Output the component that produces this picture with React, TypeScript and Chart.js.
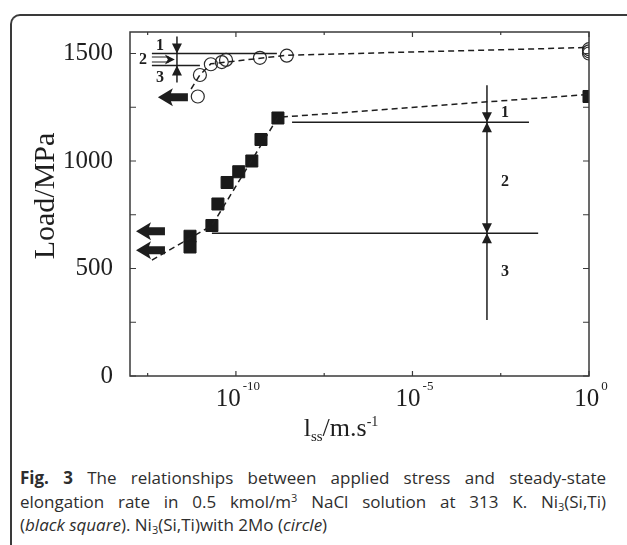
import React, { useEffect, useRef } from "react";
import { Chart, registerables } from "chart.js";

Chart.register(...registerables);

// x values are log10 of the steady-state elongation rate (m/s), y is load in MPa
// Ni3(Si,Ti) (black squares)
const SQUARE_EXP = [-11.3, -11.3, -10.68, -10.51, -10.25, -9.92, -9.55, -9.29, -8.81, 0];
const SQUARE_LOAD = [650, 600, 700, 800, 900, 950, 1000, 1100, 1200, 1300];
// Ni3(Si,Ti) with 2Mo (circles)
const CIRCLE_EXP = [-11.08, -11.02, -10.71, -10.4, -10.28, -9.32, -8.56, 0, 0, 0];
const CIRCLE_LOAD = [1300, 1400, 1450, 1460, 1470, 1480, 1490, 1500, 1510, 1520];
// dashed guide lines
const SQUARE_FIT_EXP = [-12.38, -10.68, -8.81, 0];
const SQUARE_FIT_LOAD = [539, 700, 1203, 1310];
const CIRCLE_FIT_EXP = [-11.27, -11.02, -10.71, -8.56, 0];
const CIRCLE_FIT_LOAD = [1335, 1400, 1452, 1492, 1528];

// axes
const X_MIN_EXP = -13;
const X_MAX_EXP = 0;
const Y_MIN = 0;
const Y_MAX = 1600;
const X_TICK_EXP = [-12.5, -10, -7.5, -5, -2.5, 0];
const X_LABEL_EXP = [-10, -5, 0];
const Y_TICKS = [0, 250, 500, 750, 1000, 1250, 1500];
const Y_LABELS = [0, 500, 1000, 1500];

// annotations (exp, load)
const SOLID_SEGMENTS: number[][] = [
  [-12.38, 1500, -8.84, 1500],
  [-12.38, 1444, -11.02, 1444],
  [-8.41, 1180, -1.7, 1180],
  [-10.68, 664, -1.44, 664],
  [-11.67, 1579, -11.67, 1365],
  [-2.89, 1352, -2.89, 260],
];
const SMALL_ARROWS: [number, number, string][] = [
  [-11.67, 1500, "down"],
  [-11.67, 1444, "up"],
  [-2.89, 1180, "down"],
  [-2.89, 1180, "up"],
  [-2.89, 664, "down"],
  [-2.89, 664, "up"],
];
const RIGHT_ARROW: number[] = [-12.38, -11.73, 1472];
const BIG_ARROWS: number[][] = [
  [-12.21, -11.36, 1296],
  [-12.83, -12.01, 673],
  [-12.83, -12.01, 585],
];
const NUM_LABELS: [string, number, number][] = [
  ["1", -12.15, 1537],
  ["2", -12.63, 1470],
  ["3", -12.15, 1389],
  ["1", -2.38, 1222],
  ["2", -2.38, 901],
  ["3", -2.38, 483],
];

const SERIF = "'Liberation Serif', 'Times New Roman', serif";
const INK = "#1e1e1e";

const overlay = {
  id: "overlay",
  afterDatasetsDraw(chart: any) {
    const { ctx, chartArea: a, scales } = chart;
    const xs = scales.x;
    const ys = scales.y;
    const X = (e: number) => xs.getPixelForValue(e);
    const Y = (v: number) => ys.getPixelForValue(v);
    ctx.save();
    // frame
    ctx.strokeStyle = "#3a3a3a";
    ctx.lineWidth = 1.5;
    ctx.strokeRect(a.left, a.top, a.right - a.left, a.bottom - a.top);
    // ticks
    ctx.lineWidth = 1.2;
    X_TICK_EXP.forEach((e) => {
      const x = X(e);
      const len = X_LABEL_EXP.includes(e) ? 5 : 3;
      ctx.beginPath();
      ctx.moveTo(x, a.bottom);
      ctx.lineTo(x, a.bottom - len);
      ctx.moveTo(x, a.top);
      ctx.lineTo(x, a.top + len);
      ctx.stroke();
    });
    Y_TICKS.forEach((v) => {
      const y = Y(v);
      ctx.beginPath();
      ctx.moveTo(a.left, y);
      ctx.lineTo(a.left + 6, y);
      ctx.moveTo(a.right, y);
      ctx.lineTo(a.right - 6, y);
      ctx.stroke();
    });
    // y labels
    ctx.fillStyle = INK;
    ctx.font = `25px ${SERIF}`;
    ctx.textAlign = "right";
    ctx.textBaseline = "middle";
    Y_LABELS.forEach((v) => ctx.fillText(String(v), a.left - 17, Y(v)));
    // x labels 10^n
    X_LABEL_EXP.forEach((e) => {
      const x = X(e) + 2;
      const base = "10";
      const sup = String(e);
      ctx.font = `25px ${SERIF}`;
      const wb = ctx.measureText(base).width;
      ctx.font = `13px ${SERIF}`;
      const ws = ctx.measureText(sup).width;
      const left = x - (wb + ws + 2) / 2;
      ctx.textAlign = "left";
      ctx.textBaseline = "alphabetic";
      ctx.font = `25px ${SERIF}`;
      ctx.fillText(base, left, a.bottom + 30);
      ctx.font = `13px ${SERIF}`;
      ctx.fillText(sup, left + wb + 2, a.bottom + 14);
    });
    // x title
    {
      const parts: [string, number, number][] = [
        ["l", 26, 0],
        ["ss", 15, 5],
        ["/m.s", 26, 0],
        ["-1", 14, -10],
      ];
      let total = 0;
      parts.forEach(([t, s]) => {
        ctx.font = `${s}px ${SERIF}`;
        total += ctx.measureText(t).width;
      });
      let x = 341 - total / 2;
      const base = a.bottom + 60;
      ctx.textAlign = "left";
      parts.forEach(([t, s, dy]) => {
        ctx.font = `${s}px ${SERIF}`;
        ctx.fillText(t, x, base + dy);
        x += ctx.measureText(t).width;
      });
    }
    // y title
    ctx.save();
    ctx.translate(54, 196);
    ctx.rotate(-Math.PI / 2);
    ctx.font = `30px ${SERIF}`;
    ctx.textAlign = "center";
    ctx.textBaseline = "alphabetic";
    ctx.fillText("Load/MPa", 0, 0);
    ctx.restore();

    // annotation lines
    ctx.strokeStyle = INK;
    ctx.lineWidth = 1.5;
    SOLID_SEGMENTS.forEach(([e1, v1, e2, v2]) => {
      ctx.beginPath();
      ctx.moveTo(X(e1), Y(v1));
      ctx.lineTo(X(e2), Y(v2));
      ctx.stroke();
    });
    ctx.fillStyle = INK;
    SMALL_ARROWS.forEach(([e, v, dir]) => {
      const x = X(e);
      const y = Y(v);
      const h = dir === "down" ? -10 : 10;
      ctx.beginPath();
      ctx.moveTo(x, y);
      ctx.lineTo(x - 5, y + h);
      ctx.lineTo(x + 5, y + h);
      ctx.closePath();
      ctx.fill();
    });
    {
      const [e1, e2, v] = RIGHT_ARROW;
      const x1 = X(e1);
      const x2 = X(e2);
      const y = Y(v);
      ctx.lineWidth = 1.2;
      ctx.beginPath();
      ctx.moveTo(x1, y - 2.5);
      ctx.lineTo(x2 - 6, y - 2.5);
      ctx.moveTo(x1, y + 2.5);
      ctx.lineTo(x2 - 6, y + 2.5);
      ctx.stroke();
      ctx.beginPath();
      ctx.moveTo(x2, y);
      ctx.lineTo(x2 - 10, y - 5);
      ctx.lineTo(x2 - 7, y);
      ctx.lineTo(x2 - 10, y + 5);
      ctx.closePath();
      ctx.fill();
    }
    BIG_ARROWS.forEach(([et, ee, v]) => {
      const xt = X(et);
      const xe = X(ee);
      const y = Y(v);
      ctx.beginPath();
      ctx.moveTo(xt, y);
      ctx.lineTo(xt + 15, y - 9);
      ctx.lineTo(xt + 13, y - 4);
      ctx.lineTo(xe, y - 4);
      ctx.lineTo(xe, y + 4);
      ctx.lineTo(xt + 13, y + 4);
      ctx.lineTo(xt + 15, y + 9);
      ctx.closePath();
      ctx.fill();
    });
    ctx.font = `bold 16px ${SERIF}`;
    ctx.textAlign = "center";
    ctx.textBaseline = "middle";
    NUM_LABELS.forEach(([t, e, v]) => ctx.fillText(t, X(e), Y(v)));
    ctx.restore();
  },
};

function ChartCanvas() {
  const ref = useRef<HTMLCanvasElement>(null);
  useEffect(() => {
    if (!ref.current) return;
    const pts = (ex: number[], ys: number[]) => ex.map((e, i) => ({ x: e, y: ys[i] }));
    const chart = new Chart(ref.current, {
      type: "scatter",
      data: {
        datasets: [
          {
            type: "line",
            data: pts(SQUARE_FIT_EXP, SQUARE_FIT_LOAD),
            borderColor: INK,
            borderWidth: 1.5,
            borderDash: [6, 4],
            pointRadius: 0,
            fill: false,
          } as any,
          {
            type: "line",
            data: pts(CIRCLE_FIT_EXP, CIRCLE_FIT_LOAD),
            borderColor: INK,
            borderWidth: 1.5,
            borderDash: [6, 4],
            pointRadius: 0,
            fill: false,
          } as any,
          {
            label: "Ni3(Si,Ti)",
            data: pts(SQUARE_EXP, SQUARE_LOAD),
            pointStyle: "rect",
            pointRadius: 8.5,
            backgroundColor: "#1a1a1a",
            borderColor: "#1a1a1a",
            borderWidth: 1,
          },
          {
            label: "Ni3(Si,Ti) with 2Mo",
            data: pts(CIRCLE_EXP, CIRCLE_LOAD),
            pointStyle: "circle",
            pointRadius: 6.5,
            backgroundColor: "rgba(255,255,255,0)",
            borderColor: "#2a2a2a",
            borderWidth: 1.2,
          },
        ],
      },
      options: {
        animation: false,
        responsive: false,
        devicePixelRatio: 1,
        layout: { padding: { left: 130, top: 32, right: 38, bottom: 84 } },
        plugins: { legend: { display: false }, tooltip: { enabled: false } },
        scales: {
          x: { type: "linear", min: X_MIN_EXP, max: X_MAX_EXP, display: false },
          y: { type: "linear", min: Y_MIN, max: Y_MAX, display: false },
        },
      },
      plugins: [overlay],
    });
    return () => chart.destroy();
  }, []);
  return <canvas ref={ref} width={627} height={460} style={{ position: "absolute", left: 0, top: 0 }} />;
}

const CAPTION_STYLE: React.CSSProperties = {
  position: "absolute",
  left: 20,
  width: 586,
  fontFamily: "'Open Sans', 'Noto Sans', sans-serif",
  fontSize: 17,
  color: "#2e2e2e",
  whiteSpace: "nowrap",
  lineHeight: "23px",
};

export default function App() {
  return (
    <div
      style={{
        position: "fixed",
        left: 0,
        top: 0,
        width: 627,
        height: 545,
        overflow: "hidden",
        background: "#fff",
      }}
    >
      <div
        style={{
          position: "absolute",
          left: 10,
          top: 14,
          width: 700,
          height: 700,
          borderTop: "2px solid #3a3a3a",
          borderLeft: "2px solid #3a3a3a",
          borderTopLeftRadius: 10,
        }}
      />
      <ChartCanvas />
      <div style={{ ...CAPTION_STYLE, top: 466, textAlign: "justify", textAlignLast: "justify" as any, whiteSpace: "normal" }}>
        <b>Fig. 3</b> The relationships between applied stress and steady-state
      </div>
      <div style={{ ...CAPTION_STYLE, top: 490, textAlign: "justify", textAlignLast: "justify" as any, whiteSpace: "normal" }}>
        elongation rate in 0.5 kmol/m<sup style={{ fontSize: 11, verticalAlign: 6, lineHeight: 0 }}>3</sup> NaCl solution at 313 K. Ni<sub style={{ fontSize: 11, verticalAlign: -3, lineHeight: 0 }}>3</sub>(Si,Ti)
      </div>
      <div style={{ ...CAPTION_STYLE, top: 513 }}>
        (<i>black square</i>). Ni<sub style={{ fontSize: 11, verticalAlign: -3, lineHeight: 0 }}>3</sub>(Si,Ti)with 2Mo (<i>circle</i>)
      </div>
    </div>
  );
}
